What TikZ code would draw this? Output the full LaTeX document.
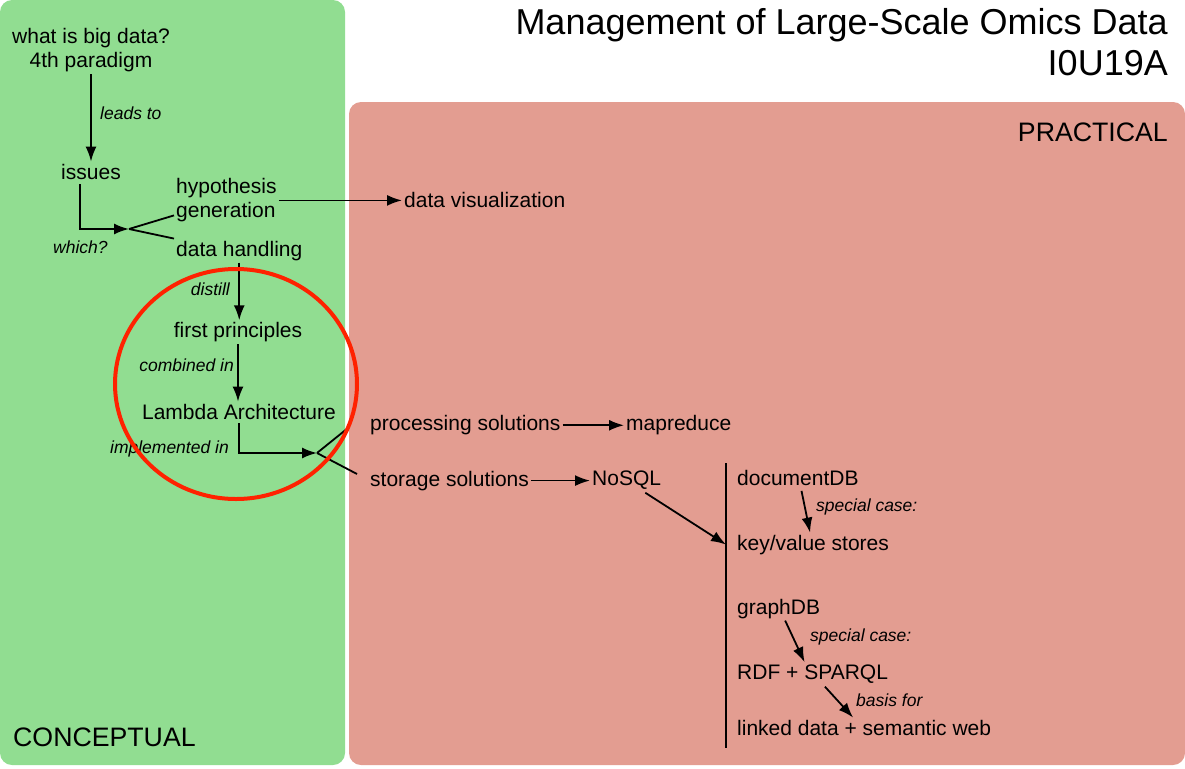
\documentclass[tikz,border=0pt]{standalone}
\usepackage{fontspec}
\setmainfont{Liberation Sans}
\usetikzlibrary{arrows.meta}

\definecolor{conceptgreen}{RGB}{145,221,145}
\definecolor{practicalred}{RGB}{227,157,145}
\definecolor{circlered}{RGB}{255,34,0}

\begin{document}
\begin{tikzpicture}[x=1pt,y=-1pt]
\tikzstyle{panel}=[rounded corners=12pt]
\tikzstyle{concept}=[inner sep=2pt, font=\fontsize{21}{24}\selectfont]
\tikzstyle{rel}=[inner sep=0pt, font=\fontsize{17.5}{20}\selectfont\itshape]
\tikzstyle{heading}=[inner sep=0pt, font=\fontsize{26.7}{30}\selectfont]
\tikzstyle{title}=[inner sep=0pt, font=\fontsize{36}{40}\selectfont]
\tikzstyle{connect}=[-{Latex[length=15pt,width=11pt]}, line width=1.8pt]
\tikzstyle{link}=[line width=1.8pt]
\useasboundingbox (0,0) rectangle (1185,768);
\fill[conceptgreen, panel] (0,0) rectangle (345,765);
\fill[practicalred, panel] (349,102) rectangle (1185,765);
  \node[title, anchor=base east] (title) at (1168,35) {Management of Large-Scale Omics Data};
  \node[title, anchor=base east] (course) at (1168,75) {I0U19A};
  \node[heading, anchor=base east] (practical) at (1168,141) {PRACTICAL};
  \node[heading, anchor=base west] (conceptual) at (13,746) {CONCEPTUAL};
  \node[concept, align=center, anchor=south] (bigdata) at (91,74.4) {what is big data?\\4th paradigm};
  \node[concept, anchor=base] (issues) at (91,179) {issues};
  \node[concept, align=left, anchor=south west] (hyp) at (174,224.4) {hypothesis\\generation};
  \node[concept, anchor=base west] (handling) at (174,256) {data handling};
  \node[concept, anchor=base west] (vis) at (402,207) {data visualization};
  \node[concept, anchor=base] (principles) at (238,337.7) {first principles};
  \node[concept, anchor=base] (lambda) at (239,419) {Lambda Architecture};
  \node[concept, anchor=base west] (proc) at (368,430.7) {processing solutions};
  \node[concept, anchor=base west] (mapred) at (624,430.5) {mapreduce};
  \node[concept, anchor=base west] (storage) at (368,486) {storage solutions};
  \node[concept, anchor=base west] (nosql) at (590,485.5) {NoSQL};
  \node[concept, anchor=base west] (docdb) at (735,485.5) {documentDB};
  \node[concept, anchor=base west] (keyval) at (735,550) {key/value stores};
  \node[concept, anchor=base west] (graphdb) at (735,614) {graphDB};
  \node[concept, anchor=base west] (rdf) at (735,679) {RDF + SPARQL};
  \node[concept, anchor=base west] (linked) at (735,735) {linked data + semantic web};
  \node[rel, anchor=base west] (leadsto) at (100,119) {leads to};
  \node[rel, anchor=base west] (which) at (53,253) {which?};
  \node[rel, anchor=base east] (distill) at (230,295) {distill};
  \node[rel, anchor=base east] (combined) at (234,371.7) {combined in};
  \node[rel, anchor=base east] (implemented) at (229,453) {implemented in};
  \node[rel, anchor=base west] (special1) at (816,511.7) {special case:};
  \node[rel, anchor=base west] (special2) at (810,641.7) {special case:};
  \node[rel, anchor=base west] (basis) at (856,706) {basis for};
  \coordinate (fork1) at (129,229);
  \coordinate (fork2) at (317,453);
  \coordinate (procend) at (348,428);
  \coordinate (storend) at (357,474);
  \coordinate (bartop) at (726,463);
  \coordinate (barbot) at (726,748);
\draw[connect] (bigdata) -- (issues);
\draw[connect, shorten <=3pt] ([xshift=-11pt]issues.south) |- (fork1);
\draw[link] (fork1) -- ([yshift=9pt]hyp.south west);
\draw[link] (fork1) -- (handling.north west);
\draw[connect] (hyp.east) -- (hyp.east -| vis.west);
\draw[connect] (handling.south) -- (handling.south |- principles.north);
\draw[connect] (principles.south) -- (principles.south |- lambda.north);
\draw[connect, shorten <=2pt] (lambda.south) |- (fork2);
\draw[link] (fork2) -- (procend);
\draw[link] (fork2) -- (storend);
\draw[connect] (proc.east) -- (proc.east -| mapred.west);
\draw[connect] (storage.east) -- (storage.east -| nosql.west);
\draw[connect, shorten <=2pt] ([xshift=17pt]nosql.south) -- (bartop |- keyval.west);
\draw[link] (bartop) -- (barbot);
\draw[connect, shorten <=3pt] ([xshift=3pt]docdb.south) -- ([xshift=-3pt]keyval.north);
\draw[connect] ([xshift=6.5pt]graphdb.south) -- ([xshift=-8pt]rdf.north);
\draw[connect, shorten <=2pt] ([xshift=11pt]rdf.south) -- ([xshift=-11pt]linked.north);
\draw[circlered, line width=4pt] (236,384) ellipse [x radius=121, y radius=115];
\end{tikzpicture}
\end{document}
